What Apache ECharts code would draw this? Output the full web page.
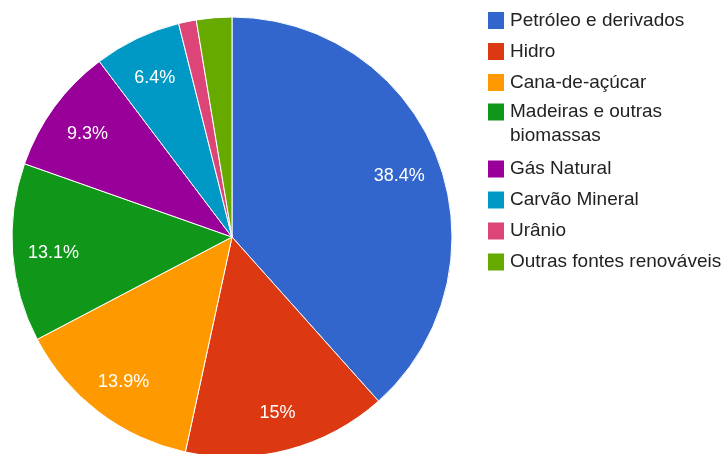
<!DOCTYPE html>
<html>
<head>
<meta charset="utf-8">
<script src="https://cdn.jsdelivr.net/npm/echarts@6/dist/echarts.min.js"></script>
<style>
  html, body { margin: 0; padding: 0; background: #fff; }
  #chart { width: 726px; height: 454px; }
</style>
</head>
<body>
<div id="chart"></div>
<script>
// fontes da matriz energética
var categories = ["Petróleo e derivados", "Hidro", "Cana-de-açúcar", "Madeiras e outras biomassas",
  "Gás Natural", "Carvão Mineral", "Urânio", "Outras fontes renováveis"];
var values = [38.4, 15, 13.9, 13.1, 9.3, 6.4, 1.3, 2.6];
var colors = ["#3366cc", "#dc3912", "#ff9900", "#109618", "#990099", "#0099c6", "#dd4477", "#66aa00"];

var pieData = [];
categories.forEach(function (name, i) {
  pieData.push({ name: name, value: values[i], itemStyle: { color: colors[i] } });
});

function legendBox(names, top) {
  return {
    orient: "vertical",
    left: 486,
    top: top,
    padding: 0,
    itemWidth: 18,
    itemHeight: 19,
    itemGap: 7,
    icon: "rect",
    data: names,
    textStyle: {
      fontFamily: "Liberation Sans, Arial",
      fontSize: 19,
      color: "#222",
      lineHeight: 24
    },
    formatter: function (name) {
      if (name === "Madeiras e outras biomassas") {
        // linha vazia em cima para o quadrado ficar na altura da primeira linha
        return "\nMadeiras e outras\nbiomassas";
      }
      return name;
    }
  };
}

var myChart = echarts.init(document.getElementById("chart"));
var option = {
  backgroundColor: "#fff",
  animation: false,
  legend: [
    legendBox(categories.slice(0, 3), 8.5),
    legendBox(categories.slice(3, 4), 76),
    legendBox(categories.slice(4), 157)
  ],
  series: [
    {
      type: "pie",
      center: [232, 237],
      radius: [0, 220],
      startAngle: 90,
      clockwise: true,
      silent: true,
      label: { show: false },
      labelLine: { show: false },
      itemStyle: { borderColor: "#fff", borderWidth: 1 },
      data: pieData
    },
    {
      // anel transparente só para posicionar os rótulos
      type: "pie",
      center: [232, 237],
      radius: [132, 220],
      startAngle: 90,
      clockwise: true,
      silent: true,
      legendHoverLink: false,
      itemStyle: { color: "rgba(0,0,0,0)" },
      labelLine: { show: false },
      label: {
        show: true,
        position: "inside",
        offset: [0, 3],
        color: "#fff",
        fontFamily: "Liberation Sans, Arial",
        fontSize: 18,
        formatter: function (p) {
          return p.value >= 5 ? p.value + "%" : "";
        }
      },
      data: categories.map(function (name, i) {
        return { name: name, value: values[i] };
      })
    }
  ]
};
myChart.setOption(option);
</script>
</body>
</html>
